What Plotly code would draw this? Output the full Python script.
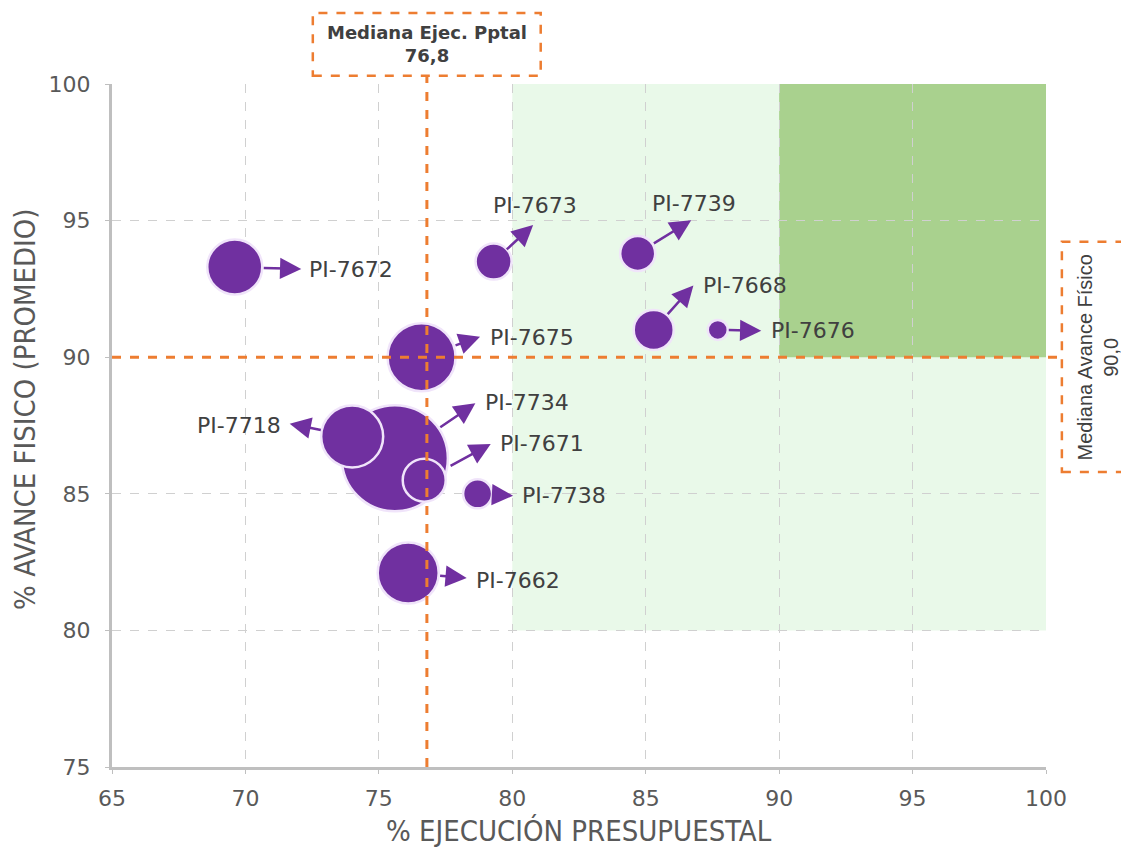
import plotly.graph_objects as go

# ---------------- data ----------------
proyectos = ["PI-7734", "PI-7672", "PI-7673", "PI-7739", "PI-7668", "PI-7676",
             "PI-7675", "PI-7718", "PI-7671", "PI-7738", "PI-7662"]
ejecucion = [75.6, 69.6, 79.3, 84.7, 85.3, 87.7, 76.6, 74.0, 76.7, 78.7, 76.1]
avance = [86.3, 93.3, 93.5, 93.8, 91.0, 91.0, 90.0, 87.1, 85.5, 85.0, 82.1]
peso = [106, 55, 36, 35, 40, 20, 68, 62, 43, 29, 61]

mediana_ejec = 76.8
mediana_avance = 90.0
x_ticks = [65, 70, 75, 80, 85, 90, 95, 100]
y_ticks = [75, 80, 85, 90, 95, 100]

# ---------------- styling (pixel offsets for arrows / labels) ----------------
# arrow: (dx, dy, standoff) ; label: (xshift, yshift, xanchor)
flechas = {
    "PI-7734": (82, -56, 55), "PI-7672": (68, 2, 29), "PI-7673": (41, -38, 18),
    "PI-7739": (55, -34, 19), "PI-7668": (41, -46, 21), "PI-7676": (45, 1, 11),
    "PI-7675": (60, -21, 36), "PI-7718": (-64, -13, 32), "PI-7671": (68, -37, 30),
    "PI-7738": (37, 2, 15), "PI-7662": (60, 5, 32),
}
etiquetas = {
    "PI-7734": (88, 56, "left"), "PI-7672": (72, -2, "left"), "PI-7673": (-3, 56, "left"),
    "PI-7739": (12, 50, "left"), "PI-7668": (47, 44, "left"), "PI-7676": (51, -1, "left"),
    "PI-7675": (66, 20, "left"), "PI-7718": (-69, 11, "right"), "PI-7671": (74, 37, "left"),
    "PI-7738": (42, -2, "left"), "PI-7662": (66, -7, "left"),
}

PURPLE = "#7030A0"
ORANGE = "#ED7D31"
GRAY = "#595959"
NARROW = "Liberation Sans Narrow, DejaVu Sans Condensed, sans-serif"

fig = go.Figure()
fig.add_trace(go.Scatter(
    x=ejecucion, y=avance, mode="markers", text=proyectos,
    marker=dict(size=peso, sizemode="diameter", color=PURPLE, opacity=1,
                line=dict(color="rgba(240,228,250,1)", width=2.5)),
    hoverinfo="text", cliponaxis=False,
))

shapes = [
    dict(type="rect", xref="x", yref="y", x0=80, x1=100, y0=80, y1=100,
         fillcolor="#E9F9E9", line=dict(width=0), layer="below"),
    dict(type="rect", xref="x", yref="y", x0=90, x1=100, y0=90, y1=100,
         fillcolor="#A9D18E", line=dict(width=0), layer="below"),
    # median lines
    dict(type="line", xref="x", yref="paper", x0=mediana_ejec, x1=mediana_ejec, y0=0, y1=1.012,
         line=dict(color=ORANGE, width=3, dash="dash"), layer="above"),
    dict(type="line", xref="paper", yref="y", x0=0, x1=1.017, y0=mediana_avance, y1=mediana_avance,
         line=dict(color=ORANGE, width=3, dash="dash"), layer="above"),
    # boxes
    dict(type="rect", xref="paper", yref="paper", x0=0.215, x1=0.459, y0=1.012, y1=1.104,
         fillcolor="white", line=dict(color=ORANGE, width=2.5, dash="dash"), layer="above"),
    dict(type="rect", xref="paper", yref="paper", x0=1.017, x1=1.12, y0=0.432, y1=0.769,
         fillcolor="white", line=dict(color=ORANGE, width=2.5, dash="dash"), layer="above"),
]

annotations = []
for p, x, y in zip(proyectos, ejecucion, avance):
    dx, dy, so = flechas[p]
    annotations.append(dict(
        x=x, y=y, xref="x", yref="y", text="", showarrow=True, ax=dx, ay=dy,
        arrowside="start", standoff=so, startarrowhead=2, startarrowsize=1.7,
        arrowwidth=2.5, arrowcolor=PURPLE))
    xs, ys, xa = etiquetas[p]
    annotations.append(dict(
        x=x, y=y, xref="x", yref="y", text=p, showarrow=False, xshift=xs, yshift=ys,
        xanchor=xa, yanchor="middle",
        font=dict(family="DejaVu Sans", size=22, color="#404040")))

annotations.append(dict(
    xref="paper", yref="paper", x=0.337, y=1.058, xanchor="center", yanchor="middle",
    showarrow=False,
    text="<b>Mediana Ejec. Pptal</b><br><b>76,8</b>",
    font=dict(family="DejaVu Sans", size=18, color="#404040")))
annotations.append(dict(
    xref="paper", yref="paper", x=1.056, y=0.60, xanchor="center", yanchor="middle",
    showarrow=False, textangle=-90,
    text="Mediana Avance Físico<br>90,0",
    font=dict(family="Liberation Sans", size=20, color="#404040")))
# axis titles
annotations.append(dict(
    xref="paper", yref="paper", x=0.5, y=-0.094, xanchor="center", yanchor="middle",
    showarrow=False, text="% EJECUCIÓN PRESUPUESTAL",
    font=dict(family=NARROW, size=29, color=GRAY)))
annotations.append(dict(
    xref="paper", yref="paper", x=-0.093, y=0.523, xanchor="center", yanchor="middle",
    showarrow=False, textangle=-90, text="% AVANCE FISICO (PROMEDIO)",
    font=dict(family=NARROW, size=29, color=GRAY)))

fig.update_layout(
    width=1121, height=839,
    margin=dict(l=104, r=83, t=76, b=80),
    paper_bgcolor="white", plot_bgcolor="white",
    showlegend=False,
    shapes=shapes, annotations=annotations,
    xaxis=dict(
        range=[65, 100], tickvals=x_ticks, showgrid=True, gridcolor="#D0D0D0",
        griddash="dash", gridwidth=1, zeroline=False, automargin=False,
        showline=True, linecolor="#BFBFBF", linewidth=3, ticks="outside", ticklen=4,
        tickcolor="#BFBFBF", ticklabelstandoff=6,
        tickfont=dict(family="DejaVu Sans", size=22, color=GRAY),
    ),
    yaxis=dict(
        range=[75, 100], tickvals=y_ticks, showgrid=True, gridcolor="#D0D0D0",
        griddash="dash", gridwidth=1, zeroline=False, automargin=False,
        showline=True, linecolor="#BFBFBF", linewidth=3, ticks="outside", ticklen=4,
        tickcolor="#BFBFBF", ticklabelstandoff=10,
        tickfont=dict(family="DejaVu Sans", size=22, color=GRAY),
    ),
)

fig.write_html("out.html")
